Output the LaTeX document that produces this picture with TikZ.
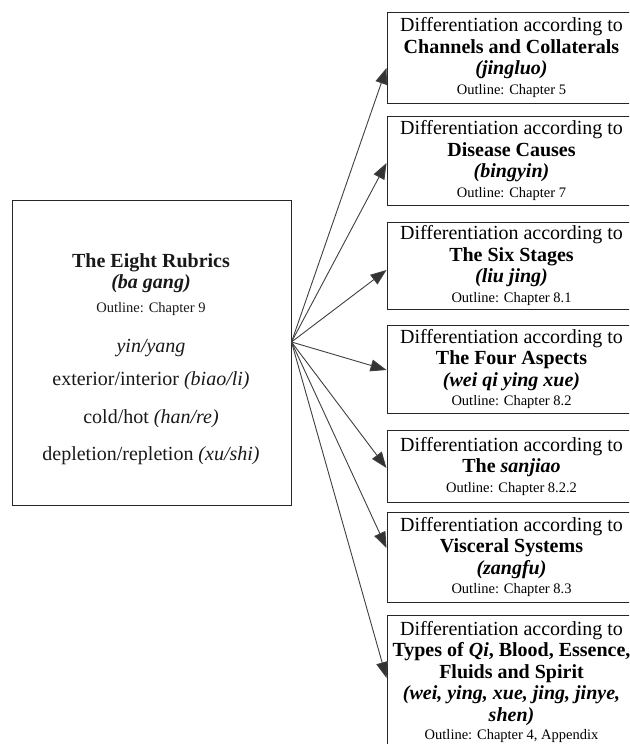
\documentclass[tikz,border=0pt]{standalone}
\usepackage{fontspec}
\setmainfont{Liberation Serif}
\usetikzlibrary{arrows.meta}
\newcommand\outl{\fontsize{14.5}{17}\selectfont}
\newcommand\mainf{\fontsize{20}{21.5}\selectfont}
\begin{document}
\begin{tikzpicture}[x=1pt,y=-1pt,
 box/.style={draw=black!85, line width=1pt, rectangle, inner sep=0pt},
 rbox/.style={box, minimum width=249pt, align=center, font=\mainf},
 lbl/.style={anchor=base, font=\mainf, inner sep=0pt, text=black!90},
 arr/.style={draw=black!75, line width=0.9pt, -{Triangle[length=16pt,width=12pt,fill=black!80]}}]
\useasboundingbox (0,0) rectangle (629,744);
\clip (0,0) rectangle (629,744);
\fill[white] (0,0) rectangle (629,744);

% left box
\node[box, minimum width=279pt, minimum height=305pt] (rubrics) at (151.5,352.5) {};
\node[lbl] (r1) at (151,267) {\textbf{The Eight Rubrics}};
\node[lbl] (r2) at (151,288) {\textbf{\textit{(ba gang)}}};
\node[lbl, font=\outl] (r3) at (151,312) {Outline: Chapter 9};
\node[lbl] (r4) at (151,352) {\textit{yin/yang}};
\node[lbl] (r5) at (151,385) {exterior/interior \textit{(biao/li)}};
\node[lbl] (r6) at (151,423) {cold/hot \textit{(han/re)}};
\node[lbl] (r7) at (151,460) {depletion/repletion \textit{(xu/shi)}};

% right boxes
\node[rbox, minimum height=91pt] (b1) at (511.5,57.5)
 {Differentiation according to\\\textbf{Channels and Collaterals}\\\textbf{\textit{(jingluo)}}\\[-2pt]{\outl Outline: Chapter 5}};
\node[rbox, minimum height=89pt] (b2) at (511.5,160.5)
 {Differentiation according to\\\textbf{Disease Causes}\\\textbf{\textit{(bingyin)}}\\[-2pt]{\outl Outline: Chapter 7}};
\node[rbox, minimum height=87pt] (b3) at (511.5,265.5)
 {Differentiation according to\\\textbf{The Six Stages}\\\textbf{\textit{(liu jing)}}\\[-2pt]{\outl Outline: Chapter 8.1}};
\node[rbox, minimum height=88pt] (b4) at (511.5,369)
 {Differentiation according to\\\textbf{The Four Aspects}\\\textbf{\textit{(wei qi ying xue)}}\\[-2pt]{\outl Outline: Chapter 8.2}};
\node[rbox, minimum height=72pt] (b5) at (511.5,466)
 {Differentiation according to\\\textbf{The \textit{sanjiao}}\\[-2pt]{\outl Outline: Chapter 8.2.2}};
\node[rbox, minimum height=90pt] (b6) at (511.5,557)
 {Differentiation according to\\\textbf{Visceral Systems}\\\textbf{\textit{(zangfu)}}\\[-2pt]{\outl Outline: Chapter 8.3}};
\node[rbox, minimum height=134pt] (b7) at (511.5,682)
 {Differentiation according to\\\textbf{Types of \textit{Qi}, Blood, Essence,}\\\textbf{Fluids and Spirit}\\\textbf{\textit{(wei, ying, xue, jing, jinye,}}\\\textbf{\textit{shen)}}\\[-3pt]{\outl Outline: Chapter 4, Appendix}};

% connectors
\coordinate (hub) at ([yshift=10.5pt]rubrics.east);
\draw[arr] (hub) -- ([yshift=-10.5pt]b1.west);
\draw[arr] (hub) -- ([yshift=-2.5pt]b2.west);
\draw[arr] (hub) -- ([yshift=-4.5pt]b3.west);
\draw[arr] (hub) -- ([yshift=-1pt]b4.west);
\draw[arr] (hub) -- ([yshift=-2pt]b5.west);
\draw[arr] (hub) -- ([yshift=9pt]b6.west);
\draw[arr] (hub) -- ([yshift=4pt]b7.west);
\end{tikzpicture}
\end{document}
